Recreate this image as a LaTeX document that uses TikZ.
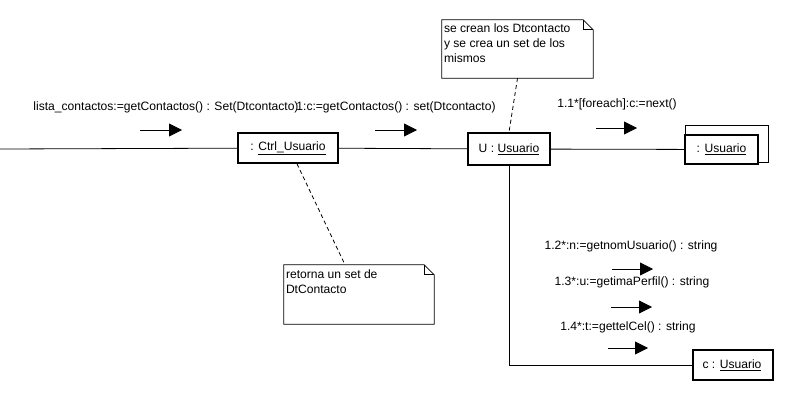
\documentclass[tikz,border=0pt]{standalone}
\usepackage{fontspec}
\setmainfont{Liberation Sans}
\usetikzlibrary{arrows.meta,calc}
\begin{document}
\begin{tikzpicture}[x=1pt,y=-1pt,
  every node/.style={font=\fontsize{12.1}{15}\selectfont},
  obj/.style={draw,line width=1.6pt,fill=white,inner sep=0pt},
  lnk/.style={draw,line width=0.8pt},
  msg/.style={line width=0.8pt,-{Triangle[length=13pt,width=13pt]}},
  lbl/.style={inner sep=0pt},
  notebox/.style={inner sep=0pt},
  noteline/.style={draw,line width=0.8pt},
  notetext/.style={anchor=north west,align=left,inner sep=0pt,font=\fontsize{12.1}{15}\selectfont},
  anchline/.style={draw,line width=0.8pt,dash pattern=on 4pt off 3pt}]
\useasboundingbox (0,0) rectangle (804,418);

% objects
\node[obj,minimum width=100pt,minimum height=30pt] (ctrl) at (288,148) {: \underline{Ctrl\_Usuario}};
\node[obj,minimum width=82pt,minimum height=32pt] (U) at (509,149) {U : \underline{Usuario}};
\draw[line width=0.8pt] (685,125) rectangle (768,162);
\node[obj,minimum width=73pt,minimum height=29pt] (multi) at (721.5,149.5) {: \underline{Usuario}};
\node[obj,minimum width=80pt,minimum height=30pt] (c) at (733,365) {c : \underline{Usuario}\,};

% links
\coordinate (start) at (0,149);
\draw[lnk] (start) -- (ctrl);
\draw[lnk] (ctrl) -- (U);
\draw[lnk] (U) -- (multi);
\draw[lnk] (U.south) |- (c.west);

% notes
\node[notebox,minimum width=151pt,minimum height=58pt] (n1) at (517.5,49) {};
\draw[noteline] (n1.north west) -- ($(n1.north east)+(-10,0)$) -- ($(n1.north east)+(0,10)$) -- (n1.south east) -- (n1.south west) -- cycle;
\draw[noteline] ($(n1.north east)+(-10,0)$) |- ($(n1.north east)+(0,10)$);
\node[notetext] (t1) at ($(n1.north west)+(2,4)$) {se crean los Dtcontacto\\y se crea un set de los\\mismos};

\node[notebox,minimum width=150pt,minimum height=59pt] (n2) at (359,294.5) {};
\draw[noteline] (n2.north west) -- ($(n2.north east)+(-10,0)$) -- ($(n2.north east)+(0,10)$) -- (n2.south east) -- (n2.south west) -- cycle;
\draw[noteline] ($(n2.north east)+(-10,0)$) |- ($(n2.north east)+(0,10)$);
\node[notetext] (t2) at ($(n2.north west)+(2,5)$) {retorna un set de\\DtContacto};

\draw[anchline] (n1.south) -- (U.north);
\draw[anchline] ($(ctrl.south)+(9,0)$) -- ($(n2.north)+(-14,0)$);

% messages
\node[lbl] (l1) at (166,107) {lista\_contactos:=getContactos() : Set(Dtcontacto)};
\node[lbl] (l2) at (396,107) {1:c:=getContactos() : set(Dtcontacto)};
\node[lbl] (l3) at (617,104) {1.1*[foreach]:c:=next()};
\node[lbl] (l4) at (631,246) {1.2*:n:=getnomUsuario() : string};
\node[lbl] (l5) at (632,282) {1.3*:u:=getimaPerfil() : string};
\node[lbl] (l6) at (628,327) {1.4*:t:=gettelCel() : string};

\coordinate (a1s) at (140,130); \coordinate (a1e) at (182,130);
\coordinate (a2s) at (375,130); \coordinate (a2e) at (417,130);
\coordinate (a3s) at (596,128); \coordinate (a3e) at (637,128);
\coordinate (a4s) at (612,269); \coordinate (a4e) at (653,269);
\coordinate (a5s) at (611,307); \coordinate (a5e) at (652,307);
\coordinate (a6s) at (608,348); \coordinate (a6e) at (648,348);
\draw[msg] (a1s) -- (a1e);
\draw[msg] (a2s) -- (a2e);
\draw[msg] (a3s) -- (a3e);
\draw[msg] (a4s) -- (a4e);
\draw[msg] (a5s) -- (a5e);
\draw[msg] (a6s) -- (a6e);
\end{tikzpicture}
\end{document}
